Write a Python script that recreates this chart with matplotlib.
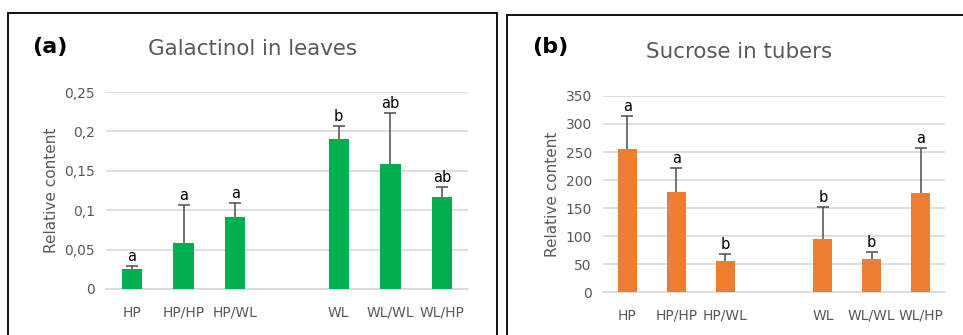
import matplotlib.pyplot as plt
from matplotlib.patches import Rectangle
from matplotlib.ticker import FuncFormatter

# groups (slot 3 is an empty gap between the two groups)
labels = ['HP', 'HP/HP', 'HP/WL', '', 'WL', 'WL/WL', 'WL/HP']

galactinol = [0.025, 0.059, 0.091, None, 0.190, 0.159, 0.117]
galactinol_err = [0.004, 0.048, 0.018, None, 0.017, 0.064, 0.012]
galactinol_sig = ['a', 'a', 'a', '', 'b', 'ab', 'ab']

sucrose = [255, 179, 56, None, 94, 59, 176]
sucrose_err = [60, 43, 12, None, 57, 12, 81]
sucrose_sig = ['a', 'a', 'b', '', 'b', 'b', 'a']

W, H = 963, 335
fig = plt.figure(figsize=(W / 100, H / 100), dpi=100)

grey = '#595959'


def px_axes(x0, x1, ytop, ybot):
    return fig.add_axes([x0 / W, (H - ybot) / H, (x1 - x0) / W, (ybot - ytop) / H])


def draw_panel(ax, vals, errs, sig, color, ymax, step, fmt):
    idx = [i for i, v in enumerate(vals) if v is not None]
    v = [vals[i] for i in idx]
    e = [errs[i] for i in idx]
    ax.bar(idx, v, width=0.39, color=color, zorder=3)
    _, caps, _ = ax.errorbar(idx, v, yerr=[[0] * len(e), e], fmt='none', ecolor='#4d4d4d',
                             elinewidth=1.1, capsize=4, capthick=1.1, zorder=4)
    caps[0].set_visible(False)  # no cap at the bar top
    for i, val, err in zip(idx, v, e):
        ax.annotate(sig[i], (i, val + err), xytext=(0, 1.5), textcoords='offset points',
                    ha='center', va='bottom', fontsize=10.5, color='black')
    ax.set_xlim(-0.5, len(vals) - 0.5)
    ax.set_ylim(0, ymax)
    ticks = [k * step for k in range(int(round(ymax / step)) + 1)]
    ax.set_yticks(ticks)
    ax.yaxis.set_major_formatter(FuncFormatter(fmt))
    ax.set_xticks(idx)
    ax.set_xticklabels([labels[i] for i in idx])
    ax.grid(axis='y', color='#d9d9d9', lw=1.2, zorder=0)
    for s in ['top', 'right', 'left']:
        ax.spines[s].set_visible(False)
    ax.spines['bottom'].set_color('#d9d9d9')
    ax.spines['bottom'].set_linewidth(1.2)
    ax.tick_params(axis='both', length=0, labelsize=10, colors=grey)
    ax.tick_params(axis='y', pad=8)
    ax.tick_params(axis='x', pad=12)
    ax.set_ylabel('Relative content', fontsize=11, color=grey, labelpad=4)


def comma(x, pos):
    s = ('%g' % round(x, 3))
    return s.replace('.', ',')


ax1 = px_axes(106, 468, 92, 289)
draw_panel(ax1, galactinol, galactinol_err, galactinol_sig, '#00b050', 0.25, 0.05, comma)

ax2 = px_axes(603, 945, 96, 292)
draw_panel(ax2, sucrose, sucrose_err, sucrose_sig, '#ed7d31', 350, 50, lambda x, p: '%d' % x)

# titles and panel letters
fig.text(252 / W, 1 - 49 / H, 'Galactinol in leaves', ha='center', va='center', fontsize=15.4, color=grey)
fig.text(32 / W, 1 - 47 / H, '(a)', ha='left', va='center', fontsize=16, fontweight='bold')
fig.text(739 / W, 1 - 52 / H, 'Sucrose in tubers', ha='center', va='center', fontsize=15.4, color=grey)
fig.text(532 / W, 1 - 47 / H, '(b)', ha='left', va='center', fontsize=16, fontweight='bold')

# panel frames
fig.patches.append(Rectangle((8 / W, -0.1), 489 / W, 1.1 - 13 / H, transform=fig.transFigure,
                             fill=False, ec='black', lw=1.3))
fig.patches.append(Rectangle((507 / W, -0.1), 0.6, 1.1 - 15 / H, transform=fig.transFigure,
                             fill=False, ec='black', lw=1.3))

plt.savefig('out.png', dpi=100)
